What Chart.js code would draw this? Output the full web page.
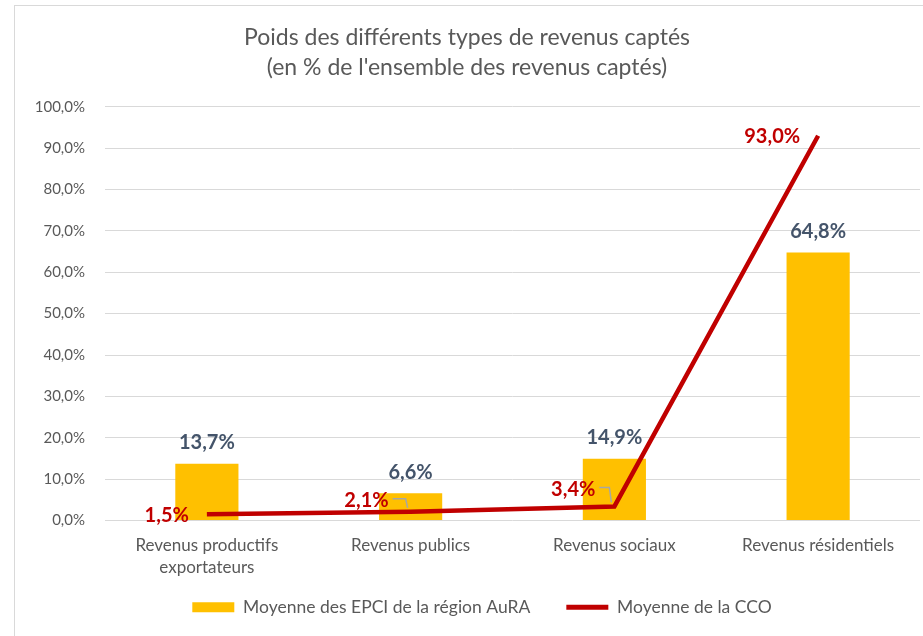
<!DOCTYPE html>
<html><head><meta charset="utf-8">
<script src="https://cdn.jsdelivr.net/npm/chart.js@4.4.1/dist/chart.umd.min.js"></script>
<style>html,body{margin:0;padding:0;background:#fff}#wrap{width:923px;height:636px}</style>
</head><body><div id="wrap"><canvas id="c" width="923" height="636"></canvas></div>
<script>
const categories = [["Revenus productifs","exportateurs"], "Revenus publics", "Revenus sociaux", "Revenus résidentiels"];
const epciValues = [13.7, 6.6, 14.9, 64.8];
const ccoValues = [1.5, 2.1, 3.4, 93.0];
const yTicks = [0,10,20,30,40,50,60,70,80,90,100];
const seriesNames = ["Moyenne des EPCI de la région AuRA", "Moyenne de la CCO"];
const titleLines = ["Poids des différents types de revenus captés", "(en % de l'ensemble des revenus captés)"];

const FONT = "Lato, 'Open Sans', 'Liberation Sans', sans-serif";
const fmt = v => v.toFixed(1).replace('.', ',') + '%';

const lineLabelOffsets = [[-18, 1], [-22, -11], [-19, -17], [-18, 1]];
const leaders = [null, true, true, null];

const labelsPlugin = {
  id: 'labels',
  afterLayout(chart) {
    if (chart.legend) chart.legend.left += 30;
    // let the category labels run below the (shortened) x-axis box without being clipped
    chart.scales.x.bottom = chart.height;
  },
  beforeDraw(chart) {
    const ctx = chart.ctx;
    ctx.save();
    ctx.fillStyle = '#fff';
    ctx.fillRect(0, 0, chart.width, chart.height);
    ctx.strokeStyle = '#d9d9d9';
    ctx.lineWidth = 1;
    ctx.strokeRect(14.5, 5.5, chart.width + 10, chart.height + 10);
    ctx.restore();
  },
  afterDatasetsDraw(chart) {
    const ctx = chart.ctx;
    ctx.save();
    ctx.font = "bold 20px " + FONT;
    const barMeta = chart.getDatasetMeta(0);
    ctx.fillStyle = '#44546A';
    ctx.textAlign = 'center';
    ctx.textBaseline = 'middle';
    barMeta.data.forEach((el, i) => {
      ctx.fillText(fmt(epciValues[i]), el.x, el.y - 21);
    });
    const lineMeta = chart.getDatasetMeta(1);
    ctx.textAlign = 'right';
    lineMeta.data.forEach((el, i) => {
      const [dx, dy] = lineLabelOffsets[i];
      if (leaders[i]) {
        ctx.strokeStyle = '#a6a6a6';
        ctx.lineWidth = 1.5;
        ctx.beginPath();
        ctx.moveTo(el.x + dx + 4, el.y + dy - 2);
        ctx.lineTo(el.x - 5, el.y + dy - 2);
        ctx.lineTo(el.x - 3, el.y - 4);
        ctx.stroke();
      }
      ctx.fillStyle = '#C00000';
      ctx.fillText(fmt(ccoValues[i]), el.x + dx, el.y + dy);
    });
    ctx.restore();
  }
};

new Chart(document.getElementById('c'), {
  data: {
    labels: categories,
    datasets: [
      { type: 'bar', label: seriesNames[0], data: epciValues, backgroundColor: '#FFC000', order: 1,
        categoryPercentage: 1.0, barPercentage: 0.31 },
      { type: 'line', label: seriesNames[1], data: ccoValues, borderColor: '#C00000', backgroundColor: '#C00000',
        borderWidth: 4.5, pointRadius: 0, tension: 0, order: 0, borderCapStyle: 'butt' }
    ]
  },
  options: {
    responsive: false,
    animation: false,
    layout: { padding: { left: 14, right: 3, top: 23, bottom: 10 } },
    plugins: {
      title: { display: true, text: titleLines, color: '#595959',
        font: { family: FONT, size: 23, weight: 'normal', lineHeight: 1.3 },
        padding: { top: 0, bottom: 24 } },
      legend: { position: 'bottom',
        labels: { color: '#595959', font: { family: FONT, size: 17.5 }, padding: 36,
          boxWidth: 42, boxHeight: 10, usePointStyle: true, pointStyleWidth: 42,
          generateLabels(chart) {
            return [
              { text: seriesNames[0], fillStyle: '#FFC000', strokeStyle: '#FFC000', lineWidth: 0, pointStyle: 'rect', datasetIndex: 0, fontColor: '#595959' },
              { text: seriesNames[1], fillStyle: '#C00000', strokeStyle: '#C00000', lineWidth: 5, pointStyle: 'line', datasetIndex: 1, fontColor: '#595959' }
            ];
          } } },
      tooltip: { enabled: false }
    },
    scales: {
      x: { grid: { display: false, drawTicks: false }, border: { display: false },
        afterFit(s) { s.height = 42; },
        ticks: { color: '#595959', font: { family: FONT, size: 17, lineHeight: 1.3 }, padding: 14, maxRotation: 0, autoSkip: false } },
      y: { min: 0, max: 100, afterFit(s) { s.width = 91; },
        afterBuildTicks(s) { s.ticks = yTicks.map(v => ({ value: v })); },
        grid: { color: '#d9d9d9', lineWidth: 1, drawTicks: false }, border: { display: false },
        ticks: { color: '#595959', font: { family: FONT, size: 15 }, padding: 20, callback: v => fmt(v) } }
    }
  },
  plugins: [labelsPlugin]
});
</script></body></html>
